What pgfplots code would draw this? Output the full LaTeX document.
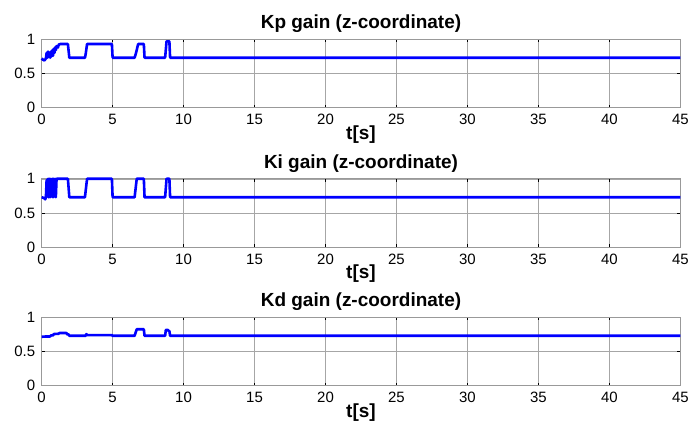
\documentclass[border=0pt]{standalone}
\usepackage{fontspec}
\setmainfont{Liberation Sans}
\usepackage{pgfplots}
\pgfplotsset{compat=1.18}
\definecolor{LB}{RGB}{0,0,255}
\pgfplotsset{
  GP/.style={
    scale only axis, width=639.5pt, height=68.5pt,
    anchor=north west,
    xmin=0, xmax=45, ymin=0, ymax=1,
    xtick={0,5,...,45}, ytick={0,0.5,1},
    yticklabels={0,0.5,1},
    xticklabels={0,5,10,15,20,25,30,35,40,45},
    tick align=inside, tick pos=both,
    major tick length=3pt,
    tick style={black, line width=0.6pt},
    ticklabel style={font=\fontsize{15}{15}\selectfont},
    xticklabel style={yshift=-3pt},
    yticklabel style={xshift=-3pt},
    grid=major, grid style={draw=gray!70, line width=0.5pt},
    axis line style={draw=gray!80, line width=0.6pt},
    title style={font=\fontsize{19}{19}\selectfont\bfseries, yshift=-3pt},
    xlabel style={font=\fontsize{19}{19}\selectfont\bfseries, yshift=6pt},
    xlabel={t[s]},
    clip=false, no markers,
    every axis plot/.append style={LB, line width=2.6pt, line join=round},
  }
}
\begin{document}
\begin{tikzpicture}[x=1pt,y=1pt]
\path (0,0) rectangle (692,-428);
\begin{axis}[GP, at={(41.7pt,-39.3pt)}, title={Kp gain (z-coordinate)}]
\addplot coordinates {(0,0.72)(0.1,0.70)(0.2,0.69)(0.3,0.72)(0.35,0.80)(0.4,0.73)
(0.45,0.82)(0.5,0.74)(0.55,0.80)(0.6,0.73)(0.65,0.82)(0.7,0.75)(0.75,0.84)(0.8,0.76)
(0.85,0.86)(0.9,0.80)(0.95,0.88)(1.0,0.84)(1.05,0.90)(1.15,0.88)(1.2,0.92)(1.3,0.93)
(1.85,0.93)(1.95,0.73)(3.05,0.73)(3.1,0.78)(3.2,0.93)(4.95,0.93)(5.0,0.73)(6.55,0.73)
(6.65,0.80)(6.8,0.93)(7.2,0.93)(7.25,0.73)(8.7,0.73)(8.8,0.97)(9.0,0.97)(9.05,0.73)(45,0.73)};
\end{axis}
\begin{axis}[GP, at={(41.7pt,-179pt)}, title={Ki gain (z-coordinate)}]
\addplot coordinates {(0,0.73)(0.15,0.72)(0.25,0.70)(0.3,0.73)(0.35,0.98)(0.4,0.74)
(0.45,1.0)(0.5,0.73)(0.55,1.0)(0.6,0.73)(0.65,1.0)(0.7,0.74)(0.75,1.0)(0.8,0.73)
(0.85,1.0)(0.9,0.74)(0.95,1.0)(1.0,0.73)(1.05,1.0)(1.85,1.0)(1.95,0.73)(3.05,0.73)
(3.2,1.0)(4.95,1.0)(5.0,0.73)(6.55,0.73)(6.7,1.0)(7.2,1.0)(7.25,0.73)(8.7,0.73)
(8.8,1.0)(9.0,1.0)(9.05,0.73)(45,0.73)};
\end{axis}
\begin{axis}[GP, at={(41.7pt,-317.7pt)}, title={Kd gain (z-coordinate)}]
\addplot coordinates {(0,0.715)(0.3,0.72)(0.6,0.72)(0.65,0.735)(0.8,0.735)(0.85,0.755)
(1.2,0.76)(1.25,0.77)(1.75,0.77)(1.8,0.75)(1.9,0.75)(1.95,0.73)(3.1,0.73)(3.15,0.755)
(3.2,0.74)(4.95,0.74)(5.0,0.73)(6.55,0.73)(6.7,0.825)(7.2,0.825)(7.25,0.73)(8.7,0.73)
(8.75,0.815)(8.9,0.815)(8.95,0.80)(9.0,0.80)(9.05,0.73)(45,0.73)};
\end{axis}
\end{tikzpicture}
\end{document}
